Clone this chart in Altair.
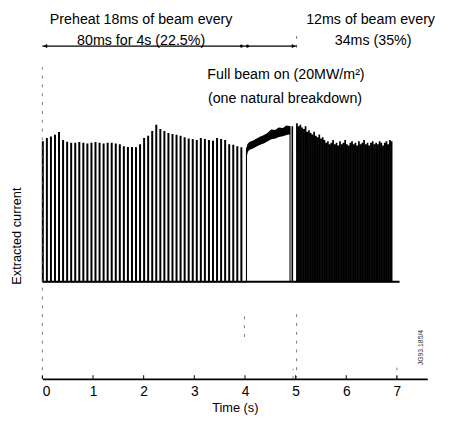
import altair as alt
import pandas as pd

# ---- data (arbitrary current units, baseline = 0) ----
preheat_period = 0.080   # 18 ms of beam every 80 ms
preheat_width = 0.018
preheat_peaks = [1.01, 1.035, 1.045, 1.057, 1.078, 1.02, 1.007, 1.0, 1.0, 1.005,
                 1.0, 0.995, 1.0, 1.005, 1.0, 0.995, 1.0, 1.0, 0.995, 0.99,
                 0.975, 0.97, 0.97, 0.967, 0.99, 1.035, 1.05, 1.085, 1.13, 1.10,
                 1.085, 1.07, 1.064, 1.057, 1.05, 1.04, 1.03, 1.028, 1.02, 1.035,
                 1.028, 1.02, 1.014, 1.035, 1.028, 1.02, 0.99, 0.986, 0.974, 0.967]

fullbeam_t = [4.03, 4.06, 4.10, 4.15, 4.22, 4.30, 4.38, 4.45, 4.52, 4.60, 4.67, 4.75, 4.82, 4.89]
fullbeam_hi = [0.957, 0.993, 1.007, 1.014, 1.028, 1.043, 1.057, 1.071, 1.095, 1.092, 1.11, 1.106, 1.125, 1.12]
fullbeam_lo = [0.90, 0.94, 0.955, 0.96, 0.975, 0.99, 1.0, 1.015, 1.03, 1.035, 1.045, 1.05, 1.06, 1.065]

restart_t = 4.93
restart_peak = 1.12

final_start = 5.02
final_period = 0.034     # 12 ms of beam every 34 ms
final_width = 0.012
final_peaks = [1.14, 1.12, 1.13, 1.11, 1.10, 1.12, 1.08, 1.09, 1.07, 1.06,
               1.08, 1.05, 1.04, 1.06, 1.03, 1.04, 1.02, 1.00, 1.01, 0.99,
               1.00, 1.02, 0.99, 1.00, 0.98, 1.01, 0.99, 1.00, 1.02, 0.99,
               0.98, 1.00, 1.01, 0.99, 1.00, 0.98, 1.01, 0.99, 1.00, 1.02,
               0.99, 1.00, 0.98, 1.00, 1.01, 0.99, 1.00, 0.99, 1.01, 1.00,
               0.98, 1.00, 1.01, 0.99, 1.02, 1.01]
trace_end = 7.05

x_ticks = [0, 1, 2, 3, 4, 5, 6, 7]

dash_x = [0.0, 3.99, 5.02, 4.95, 7.0, 5.02]
dash_y1 = [-0.702, -0.25, -0.702, -0.702, -0.702, 1.69]
dash_y2 = [1.55, -0.40, -0.21, -0.63, -0.62, 1.79]

arrow_x = [0.0, 5.02]
arrow_y = 1.702

labels = ["Preheat 18ms of beam every", "80ms for 4s (22.5%)",
          "12ms of beam every", "34ms (35%)",
          "Full beam on (20MW/m²)", "(one natural breakdown)"]
label_x = [1.95, 1.95, 6.48, 6.53, 4.81, 4.79]
label_y = [1.887, 1.738, 1.887, 1.738, 1.496, 1.32]

# ---- build the waveform table ----
rows = [(0.0, 0.0)]
for i, h in enumerate(preheat_peaks):
    t0 = i * preheat_period
    rows += [(t0, 0.0), (t0, h), (t0 + preheat_width, h), (t0 + preheat_width, 0.0)]
rows.append((fullbeam_t[0], 0.0))
for t, h in zip(fullbeam_t, fullbeam_hi):
    rows.append((t, h))
rows.append((fullbeam_t[-1], 0.0))
rows += [(restart_t, 0.0), (restart_t, restart_peak), (restart_t + 0.01, restart_peak), (restart_t + 0.01, 0.0)]
for j, h in enumerate(final_peaks):
    t0 = final_start + j * final_period
    rows += [(t0, 0.0), (t0, h), (t0 + final_width, h), (t0 + final_width, 0.0)]
rows.append((trace_end, 0.0))
wave = pd.DataFrame({"t": [r[0] for r in rows], "v": [r[1] for r in rows], "k": list(range(len(rows)))})

band = pd.DataFrame({"t": fullbeam_t, "v": fullbeam_lo, "v2": fullbeam_hi})
base = pd.DataFrame({"t": [0.0, trace_end], "v": [0.0, 0.0]})
dashes = pd.DataFrame({"t": dash_x, "v": dash_y1, "v2": dash_y2})
ticks = pd.DataFrame({"t": x_ticks, "v": [-0.702] * len(x_ticks), "v2": [-0.675] * len(x_ticks)})
arrow = pd.DataFrame({"t": arrow_x, "v": [arrow_y, arrow_y]})
heads = pd.DataFrame({"t": [0.06, 4.96], "v": [arrow_y, arrow_y], "s": ["triangle-left", "triangle-right"]})
dots = pd.DataFrame({"t": [3.93, 4.05], "v": [arrow_y, arrow_y]})
texts = pd.DataFrame({"t": label_x, "v": label_y, "txt": labels})
idtxt = pd.DataFrame({"t": [7.47], "v": [-0.475], "txt": ["JG93.185/4"]})

xs = alt.Scale(domain=[0, 7.6], nice=False, zero=False)
ys = alt.Scale(domain=[-0.702, 1.95], nice=False, zero=False)
FONT = "Liberation Sans"

x_axis = alt.Axis(values=x_ticks, format="d", tickSize=0, labelPadding=6,
                  labelFontSize=14, labelFont=FONT, labelColor="black",
                  domainColor="black", domainWidth=1.8, grid=False,
                  titleFont=FONT, titleFontSize=13, titleFontWeight="normal",
                  titleColor="black", titlePadding=3)
y_axis = alt.Axis(domain=False, ticks=False, labels=False, grid=False,
                  titleFont=FONT, titleFontSize=13, titleFontWeight="normal",
                  titleColor="black", titleX=-26, titleY=228, titleAngle=270,
                  titleAlign="center", titleBaseline="middle")

X = alt.X("t:Q", scale=xs, axis=x_axis, title="Time (s)")
Y = alt.Y("v:Q", scale=ys, axis=y_axis, title="Extracted current")

main = alt.Chart(wave).mark_line(color="black", strokeWidth=1.1, clip=False).encode(
    x=X, y=Y, order="k:Q")
band_layer = alt.Chart(band).mark_area(color="black").encode(x=X, y=Y, y2="v2:Q")
base_layer = alt.Chart(base).mark_line(color="black", strokeWidth=2).encode(x=X, y=Y)
dash_layer = alt.Chart(dashes).mark_rule(color="#555555", strokeWidth=0.8, strokeDash=[3, 6]).encode(x=X, y=Y, y2="v2:Q")
tick_layer = alt.Chart(ticks).mark_rule(color="black", strokeWidth=1).encode(x=X, y=Y, y2="v2:Q")
arrow_layer = alt.Chart(arrow).mark_line(color="black", strokeWidth=1.2).encode(x=X, y=Y)
head_layer = alt.Chart(heads).mark_point(filled=True, color="black", size=18, opacity=1).encode(
    x=X, y=Y, shape=alt.Shape("s:N", scale=None, legend=None))
dot_layer = alt.Chart(dots).mark_point(filled=True, color="black", size=10, opacity=1).encode(x=X, y=Y)
text_layer = alt.Chart(texts).mark_text(font=FONT, fontSize=14.5, color="black", align="center",
                                        baseline="middle").encode(x=X, y=Y, text="txt:N")
id_layer = alt.Chart(idtxt).mark_text(font=FONT, fontSize=7, color="#333333", angle=270,
                                      align="center", baseline="middle").encode(x=X, y=Y, text="txt:N")

chart = alt.layer(main, band_layer, base_layer, dash_layer, tick_layer, arrow_layer,
                  head_layer, dot_layer, text_layer, id_layer).properties(
    width=392, height=374,
    autosize=alt.AutoSizeParams(type="none"),
    padding={"left": 35, "top": 0, "right": 16, "bottom": 40},
    background="white",
).configure_view(stroke=None)

chart.save("out.html", embed_options={"renderer": "svg", "actions": False})
